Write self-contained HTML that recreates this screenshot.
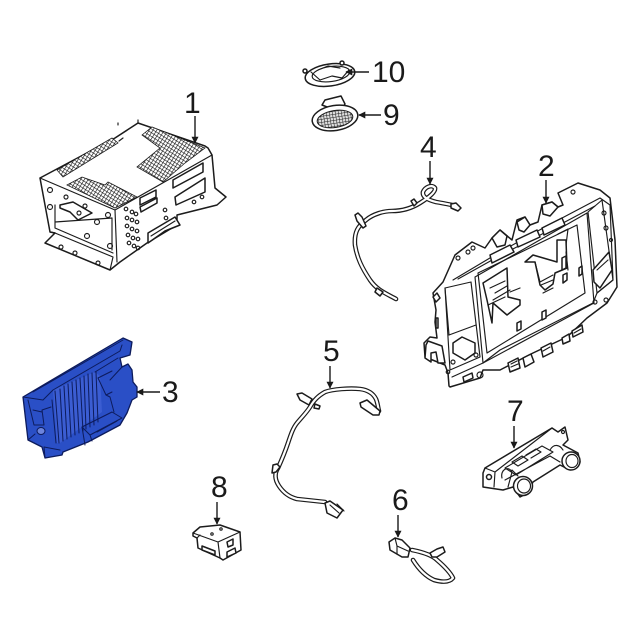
<!DOCTYPE html>
<html><head><meta charset="utf-8"><style>
html,body{margin:0;padding:0;background:#fff}
svg{display:block}
text{font-family:"Liberation Sans",sans-serif;font-size:30px;fill:#1a1a1a}
.l{fill:#fff;stroke:#1a1a1a;stroke-width:1.5;stroke-linejoin:round;stroke-linecap:round}
.n{fill:none;stroke:#1a1a1a;stroke-width:1.15;stroke-linejoin:round;stroke-linecap:round}
.a{fill:none;stroke:#1a1a1a;stroke-width:1.4}
.b{fill:none;stroke:#0b1a5c;stroke-width:1;stroke-linejoin:round;stroke-linecap:round}
.w1{fill:none;stroke:#1a1a1a;stroke-width:4.6;stroke-linecap:round;stroke-linejoin:round}
.w2{fill:none;stroke:#fff;stroke-width:2.2;stroke-linecap:round;stroke-linejoin:round}
</style></head><body>
<svg width="640" height="640" viewBox="0 0 640 640" xmlns="http://www.w3.org/2000/svg">
<defs>
<pattern id="h" width="3.2" height="3.2" patternUnits="userSpaceOnUse" patternTransform="rotate(32)">
<rect width="3.2" height="3.2" fill="#fff"/><path d="M0 0H3.2M0 0V3.2" stroke="#111" stroke-width="1.2"/>
</pattern>
<pattern id="m" width="3" height="3" patternUnits="userSpaceOnUse">
<rect width="3" height="3" fill="#ddd"/><path d="M0 0H3M0 0V3" stroke="#222" stroke-width="1.1"/>
</pattern>
<marker id="ah" viewBox="0 0 10 10" refX="9" refY="5" markerWidth="7" markerHeight="7" orient="auto" markerUnits="userSpaceOnUse"><path d="M0 0L10 5L0 10Z" fill="#1a1a1a"/></marker>
<filter id="s" x="-2%" y="-2%" width="104%" height="104%"><feGaussianBlur stdDeviation="0.35"/></filter>
</defs>

<g filter="url(#s)">
<!-- Part 1 -->
<g>
<path class="l" d="M40 178L115 138L138 123L205 146L208 148L212 155L215 188L226 197L217 205L177 215L177 225L147 243L120 262L110 270L45 243L55 233L50 232Z"/>
<path class="n" d="M40 178L115 210L212 155M115 210L117 262M50 232L55 233L113 257L110 270M55 228L113 253M55 205V228M55 222L112 218M112 218V250"/>
<path d="M67 185L82 177L105 185L108 182L137 197L115 208Z" fill="url(#h)" stroke="#1a1a1a" stroke-width=".8"/>
<path d="M142 135L152 127L205 148L185 163L163 182L137 167L160 148Z" fill="url(#h)" stroke="#1a1a1a" stroke-width=".8"/>
<path d="M57 170L112 138L118 143L63 177Z" fill="url(#h)" stroke="#1a1a1a" stroke-width=".8"/>
<path class="n" d="M118 123L118 125M138 123V120M119 141L123 138"/>
<path class="l" d="M173 180L203 163V172L173 188Z M175 197L205 178V192L176 205Z"/>
<path class="l" d="M140 198L156 190V197L140 205ZM140 207L157 198V203L141 212Z"/>
<path class="l" d="M60 205L73 202L92 213L78 220L70 212L60 208Z"/>
<path class="l" d="M148 233L175 217L180 225L165 231L158 236L148 243Z"/>
<path class="n" d="M151 236L175 221"/>
<g class="n">
<circle cx="50" cy="190" r="2.5"/><circle cx="50" cy="207" r="2.5"/><circle cx="66" cy="197" r="2"/><circle cx="85" cy="206" r="2"/><circle cx="108" cy="215" r="2.5"/><circle cx="97" cy="222" r="2.5"/><circle cx="87" cy="236" r="2.5"/><circle cx="110" cy="246" r="2.5"/><circle cx="61" cy="247" r="2"/><circle cx="75" cy="253" r="2"/><circle cx="98" cy="263" r="2"/><circle cx="79" cy="213" r="2"/>
<circle cx="126" cy="209" r="1.8"/><circle cx="132" cy="212" r="1.8"/><circle cx="136" cy="214" r="1.8"/><circle cx="127" cy="218" r="1.8"/><circle cx="132" cy="220" r="1.8"/><circle cx="137" cy="222" r="1.8"/><circle cx="127" cy="226" r="1.8"/><circle cx="132" cy="229" r="1.8"/><circle cx="137" cy="231" r="1.8"/><circle cx="128" cy="235" r="1.8"/><circle cx="133" cy="238" r="1.8"/><circle cx="138" cy="239" r="1.8"/><circle cx="129" cy="243" r="1.8"/><circle cx="134" cy="246" r="1.8"/><circle cx="138" cy="248" r="1.8"/>
<circle cx="165" cy="210" r="1.8"/><circle cx="166" cy="218" r="1.8"/><circle cx="194" cy="202" r="1.8"/><circle cx="202" cy="197" r="1.8"/>
</g>
</g>

<!-- Part 10 -->
<g>
<ellipse class="l" cx="330" cy="75" rx="25" ry="11" transform="rotate(-8 330 75)"/>
<ellipse class="n" cx="331" cy="74" rx="19" ry="7.5" transform="rotate(-8 331 74)"/>
<path class="n" d="M311 72L320 80L332 76L342 78L349 70M318 70L328 66L340 68"/>
<circle class="l" cx="305" cy="71" r="2"/><circle class="l" cx="342" cy="63" r="2"/>
</g>

<!-- Part 9 -->
<g>
<path class="l" d="M322 105L325 100L341 96L345 104L340 112Z"/>
<ellipse class="l" cx="335" cy="118" rx="23" ry="12.5" transform="rotate(-9 335 118)"/>
<ellipse cx="335" cy="119" rx="18" ry="8.5" transform="rotate(-9 335 119)" fill="url(#m)" stroke="#1a1a1a"/>
</g>

<!-- Part 4 -->
<g>
<path class="w1" d="M396 299C385 293 377 290 370 280C362 268 357 258 355 245C354 232 358 226 366 220C373 214 384 211 392 211C402 211 412 208 420 203C428 198 436 192 435 188C432 184 425 187 423 192C422 197 428 200 436 202C442 203 447 204 452 205"/>
<path class="w2" d="M396 299C385 293 377 290 370 280C362 268 357 258 355 245C354 232 358 226 366 220C373 214 384 211 392 211C402 211 412 208 420 203C428 198 436 192 435 188C432 184 425 187 423 192C422 197 428 200 436 202C442 203 447 204 452 205"/>
<path class="l" d="M355 215L358 213L362 217L366 226L363 228L357 221ZM377 288L383 292L380 296L375 292Z"/>
<path class="l" d="M411 201L414 199L417 203L414 206ZM451 204L456 203L461 208L458 211L451 208Z"/>
</g>

<!-- Part 2 -->
<g>
<path class="l" d="M449 386L448 373L445 365L425 357L424 343L430 337L437 338L435 322L436 310L433 293L443 282L455 255L472 242L485 248L492 238L500 230L512 240L517 220L525 217L530 225L538 222L542 205L552 202L558 207L563 205L558 193L578 183L600 190L610 198L615 240L617 287L607 303L595 312L587 318L567 337L533 353L500 370L483 370L480 378L450 387Z"/>
<path class="n" d="M453 280L500 252L545 227L600 198L610 205L613 280L597 293L593 303L500 350L483 363L452 377"/>
<path class="n" d="M458 279L503 254L548 231L595 206"/>
<path class="n" d="M475 277L587 213L594 303L483 363Z"/>
<path class="n" d="M478 273L577 225L585 293L487 353Z"/>
<path class="n" d="M445 288L471 282L480 357L450 370ZM588 212L602 200L613 280L597 293Z"/>
<path class="n" d="M449 335L476 325M445 288L449 335"/>
<path class="l" d="M462 337L475 343V353L465 360L453 353V343Z"/>
<path class="l" d="M483 283L507 268L508 297L520 300V305L507 315L493 303L492 323L487 300Z"/>
<path class="n" d="M490 288L505 281M495 293L507 286M488 305L505 297M493 300L510 290M510 292L520 288"/>
<path class="l" d="M525 262L533 255L557 262L557 240L566 240L567 268L555 273L553 284L545 290L540 285L535 262Z"/>
<path class="n" d="M535 262L540 282L553 275M541 285L553 280M543 293L553 288"/>
<path class="n" d="M558 234L568 229L566 245M566 252L568 270"/>
<path class="l" d="M562 258L566 256V268L562 270Z M579 268L582 266V274L579 276Z"/>
<path class="l" d="M593 270L609 252L612 270L600 288L594 282Z"/>
<path class="n" d="M597 270L608 260"/>
<path class="l" d="M426 345L428 341L442 346L445 363L438 363L436 352L431 353V362L425 358Z"/>
<path class="l" d="M517 323L521 321V329L517 331ZM542 312L546 310V318L542 320ZM563 275L567 273V280L563 283Z"/>
<path class="l" d="M490 255L510 245L514 252L492 263ZM516 240L537 230L540 237L518 247ZM542 228L562 218L565 225L544 235Z"/>
<path class="l" d="M508 363L518 358L520 368L510 372ZM523 358L531 354L534 362L525 367ZM541 348L551 343L553 352L543 357ZM562 338L569 334L570 341L563 344ZM572 331L582 325L583 332L573 337Z"/>
<path class="n" d="M511 364L517 361M511 367L518 364M543 351L550 347M574 333L581 329"/>
<path class="l" d="M492 238L500 230L507 236L505 245L497 247ZM517 222L525 217L530 225L524 232L519 230ZM542 205L552 202L558 207L550 216L543 214Z"/>
<g class="n"><circle cx="458" cy="258" r="2"/><circle cx="468" cy="252" r="2"/><circle cx="473" cy="248" r="2"/><circle cx="573" cy="192" r="2"/><circle cx="480" cy="375" r="3"/><circle cx="604" cy="213" r="2"/><circle cx="448" cy="372" r="1.8"/><circle cx="606" cy="300" r="2"/><circle cx="595" cy="302" r="2"/><circle cx="453" cy="362" r="2"/><circle cx="476" cy="355" r="2"/><circle cx="611" cy="240" r="1.5"/><circle cx="606" cy="228" r="2"/></g>
<path class="l" d="M463 377L472 373L473 378L464 382Z"/>
<path class="l" d="M437 293L433 297L436 302L440 298Z M436 318V328L438 328V318Z"/>
</g>

<!-- Part 3 -->
<g>
<path d="M23 397L123 338L132 342L130 355L120 358L122 367L128 364L132 370L133 382L137 387L137 397L132 400L127 413L120 425L88 442L63 452L62 455L45 458L42 447L28 440Z" fill="#2c50c6" stroke="#0b1a5c" stroke-width="1.3" stroke-linejoin="round"/>
<path d="M53 390L95 372L100 376L102 412L60 443L57 443Z" fill="#3a5dd2"/>
<path class="b" d="M23 397L43 400L53 390L120 351L122 345M33 392L123 340M95 372L118 358"/>
<path class="b" d="M55 391L59 443M60 389L63 441M64 386L67 439M68 384L71 437M72 382L75 435M76 380L79 433M80 378L83 431M84 376L86 429M88 374L90 427M92 373L94 425M96 372L98 422"/>
<path class="b" d="M98 378L112 371M98 378L106 395L110 397L114 412M110 380L122 367M106 395L112 392"/>
<path class="b" d="M82 427L112 412L122 418L90 435ZM82 427L85 445M90 435L92 441M97 432L117 421"/>
<path class="b" d="M28 400L34 425L44 425L42 410L51 407M33 410L42 412M52 400L56 443"/>
<ellipse cx="41" cy="431" rx="4" ry="3.5" fill="#6c84dd" stroke="#0b1a5c"/>
<path class="b" d="M28 440L35 434M45 458L44 447L60 450"/>
</g>

<!-- Part 5 -->
<g>
<path class="w1" d="M325 502L297 499C289 497 283 492 279 486C275 480 274 474 278 468C283 457 285 452 288 443C291 434 293 428 297 423C302 417 307 412 310 407C314 400 318 396 325 392C333 389 350 388 360 389C368 390 373 393 376 399C378 404 378 408 379 411"/>
<path class="w2" d="M325 502L297 499C289 497 283 492 279 486C275 480 274 474 278 468C283 457 285 452 288 443C291 434 293 428 297 423C302 417 307 412 310 407C314 400 318 396 325 392C333 389 350 388 360 389C368 390 373 393 376 399C378 404 378 408 379 411"/>
<path class="l" d="M297 394L302 393L312 399L309 405L300 400Z M315 404L320 406L319 409L314 408Z"/>
<path class="l" d="M360 403L367 400L380 411L379 415L373 415L361 407Z"/>
<path class="l" d="M273 465L277 464L280 467L276 472L272 473Z"/>
<path class="l" d="M325 503L330 501L343 510L337 518L327 513Z"/>
<path class="n" d="M330 505L339 513M337 504L344 511"/>
</g>

<!-- Part 6 -->
<g>
<path class="w1" d="M412 550C422 552 432 555 437 560C444 566 450 572 453 578C449 583 441 582 434 580C425 576 418 568 413 560"/>
<path class="w2" d="M412 550C422 552 432 555 437 560C444 566 450 572 453 578C449 583 441 582 434 580C425 576 418 568 413 560"/>
<path class="l" d="M389 542L395 538L402 540L410 548L408 557L402 557L390 550Z"/>
<path class="n" d="M395 538L397 546L408 551M397 546V554"/>
<path class="l" d="M430 553L437 549L443 547L445 552L437 557L432 557Z"/>
</g>

<!-- Part 7 -->
<g>
<path class="l" d="M485 468L552 428L558 432L565 427L568 440L563 445L578 453L580 462L570 470L560 465L533 482L528 493L520 497L513 487L503 490L483 487L483 473Z"/>
<path class="n" d="M485 468L495 472L552 428M495 472L494 487M505 468L542 446L553 452L516 475ZM512 462L522 456L528 460L518 466ZM526 455L536 449L541 452L531 458M505 480L550 456L560 462"/>
<circle class="l" cx="489" cy="477" r="2.5"/>
<ellipse class="l" cx="571" cy="461" rx="9" ry="9"/><ellipse class="n" cx="572" cy="461" rx="6" ry="6.5"/>
<ellipse class="l" cx="523" cy="486" rx="9.5" ry="9.5"/><ellipse class="n" cx="524" cy="486" rx="6.5" ry="7"/>
<path class="n" d="M502 478C500 470 508 465 512 472L508 487M512 470L518 476M550 450C554 443 560 445 563 450"/>
<circle class="n" cx="563" cy="432" r="1.5"/>
</g>

<!-- Part 8 -->
<g>
<path class="l" d="M193 533L200 527L220 525L240 532L241 550L223 560L220 558L198 548L197 538L193 536Z"/>
<path class="n" d="M193 533L218 542L240 532M218 542L220 558M197 538L200 535"/>
<path class="l" d="M202 546L215 551V555L202 550Z"/>
<path class="l" d="M227 542L233 539V545L228 547ZM227 552L235 548L236 553L227 557Z"/>
<circle class="n" cx="212" cy="534" r="1.2"/><circle class="n" cx="221" cy="529" r="1.2"/>
</g>
</g>

<!-- Labels -->
<text x="184" y="113">1</text>
<path class="a" d="M195 116V143" marker-end="url(#ah)"/>
<text x="372" y="82">10</text>
<path class="a" d="M369 72H346" marker-end="url(#ah)"/>
<text x="383" y="125">9</text>
<path class="a" d="M381 115H359" marker-end="url(#ah)"/>
<text x="420" y="157">4</text>
<path class="a" d="M430 161V184" marker-end="url(#ah)"/>
<text x="538" y="176">2</text>
<path class="a" d="M546 180V203" marker-end="url(#ah)"/>
<text x="162" y="402">3</text>
<path class="a" d="M160 392H137" marker-end="url(#ah)"/>
<text x="323" y="361">5</text>
<path class="a" d="M330 366V388" marker-end="url(#ah)"/>
<text x="392" y="510">6</text>
<path class="a" d="M398 515V537" marker-end="url(#ah)"/>
<text x="507" y="421">7</text>
<path class="a" d="M514 426V448" marker-end="url(#ah)"/>
<text x="211" y="497">8</text>
<path class="a" d="M217 502V524" marker-end="url(#ah)"/>
</svg>
</body></html>
